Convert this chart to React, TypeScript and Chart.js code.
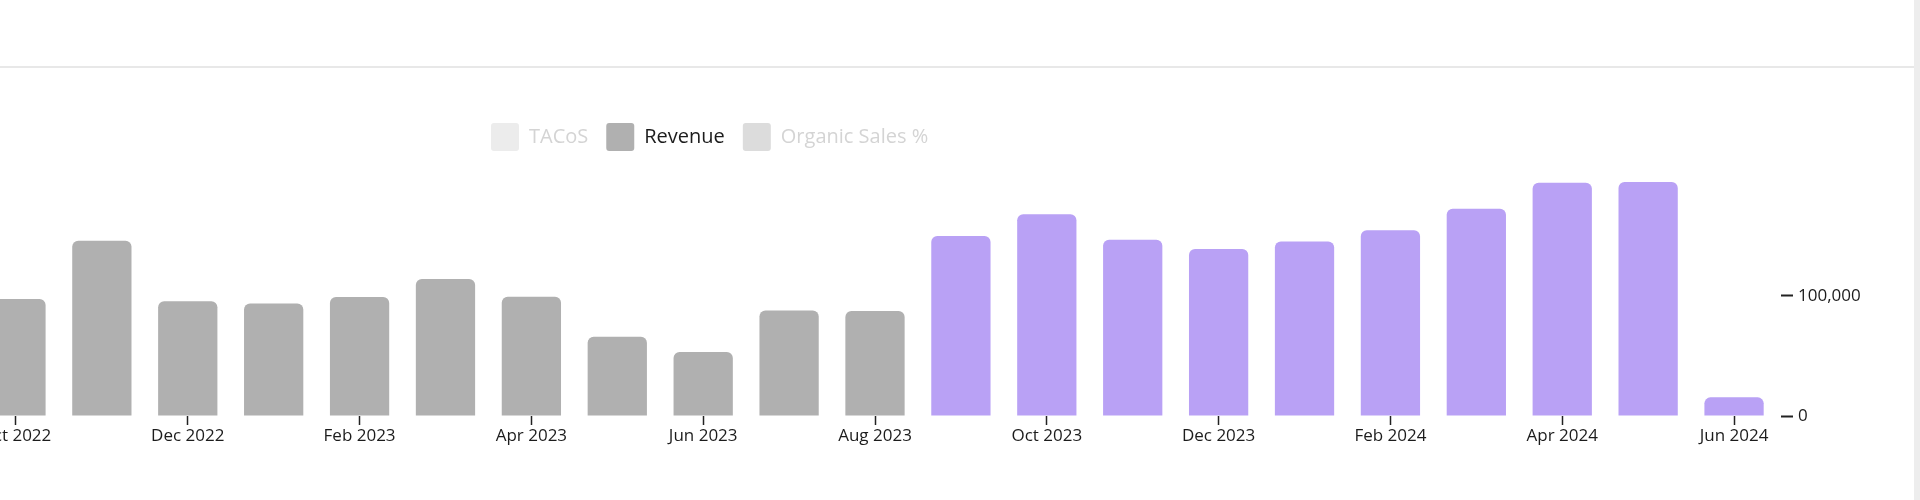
import React, { useEffect, useRef } from "react";
import { Chart, registerables } from "chart.js";

Chart.register(...registerables);

// ---- data ----
const months = [
  "Oct 2022", "Nov 2022", "Dec 2022", "Jan 2023", "Feb 2023", "Mar 2023", "Apr 2023",
  "May 2023", "Jun 2023", "Jul 2023", "Aug 2023", "Sep 2023", "Oct 2023", "Nov 2023",
  "Dec 2023", "Jan 2024", "Feb 2024", "Mar 2024", "Apr 2024", "May 2024", "Jun 2024",
];
const revenue = [
  97400, 145900, 95500, 93500, 99100, 113900, 99300,
  65900, 53300, 87800, 87400, 149800, 167900, 146700,
  139000, 145100, 154500, 172400, 194100, 194600, 15500,
];
const tacos: number[] = [];
const organicSales: number[] = [];
const highlightStart = "Sep 2023";
const yTickValues = [0, 100000];
const legendNames = ["TACoS", "Revenue", "Organic Sales %"];

// ---- styles ----
const GRAY = "#b0b0b0";
const PURPLE = "#b9a1f5";
const TEXT = "#1c1c1c";

const legendPlacement = {
  id: "legendPlacement",
  afterInit(chart: any) {
    const legend = chart.legend;
    if (!legend) return;
    const fit = legend.fit;
    legend.fit = function () {
      fit.call(this);
      this.height = 73;
    };
  },
  beforeDraw(chart: any) {
    if (chart.legend) chart.legend.left = 500;
  },
};

export default function App() {
  const ref = useRef<HTMLCanvasElement | null>(null);

  useEffect(() => {
    if (!ref.current) return;
    const hi = months.indexOf(highlightStart);
    const barColors = months.map((_, i) => (i >= hi ? PURPLE : GRAY));
    const legendStyles = [
      { fill: "#ececec", font: "#d4d4d4" },
      { fill: GRAY, font: TEXT },
      { fill: "#dcdcdc", font: "#d4d4d4" },
    ];

    const chart = new Chart(ref.current, {
      type: "bar",
      data: {
        labels: months,
        datasets: [
          { type: "line", label: legendNames[0], data: tacos, borderColor: "#ececec", backgroundColor: "#ececec" } as any,
          {
            type: "bar",
            label: legendNames[1],
            data: revenue,
            backgroundColor: barColors,
            borderRadius: 6,
            borderSkipped: "start",
            barPercentage: 0.69,
            categoryPercentage: 1,
          },
          { type: "line", label: legendNames[2], data: organicSales, borderColor: "#dcdcdc", backgroundColor: "#dcdcdc" } as any,
        ],
      },
      options: {
        responsive: false,
        animation: false,
        layout: { padding: 0 },
        font: { family: "'Open Sans', sans-serif" } as any,
        plugins: {
          tooltip: { enabled: false },
          legend: {
            position: "top",
            align: "start",
            labels: {
              boxWidth: 28,
              boxHeight: 28,
              padding: 18,
              useBorderRadius: true,
              borderRadius: 3,
              font: { size: 20, family: "'Open Sans', sans-serif" },
              generateLabels: () =>
                legendNames.map((name, i) => ({
                  text: name,
                  fillStyle: legendStyles[i].fill,
                  strokeStyle: legendStyles[i].fill,
                  lineWidth: 0,
                  hidden: false,
                  datasetIndex: i,
                  fontColor: legendStyles[i].font,
                  borderRadius: 3,
                })) as any,
            },
          },
        },
        scales: {
          x: {
            offset: true,
            border: { display: false },
            grid: {
              offset: false,
              drawOnChartArea: false,
              tickLength: 9,
              tickWidth: 1.5,
              tickColor: (ctx: any) => (ctx.index % 2 === 0 ? "#222" : "rgba(0,0,0,0)"),
            },
            ticks: {
              autoSkip: false,
              maxRotation: 0,
              minRotation: 0,
              padding: 1,
              color: TEXT,
              font: { size: 17, family: "'Open Sans', sans-serif" },
              callback: (_v: any, i: number) => (i % 2 === 0 ? months[i] : ""),
            },
            afterFit: (s: any) => {
              s.height = 40;
            },
          },
          y: {
            position: "right",
            min: 0,
            max: 198000,
            border: { display: false },
            grid: {
              drawOnChartArea: false,
              tickLength: 16,
              tickWidth: 2,
              tickColor: "#222",
              tickBorderDash: [0, 4, 12, 40],
            },
            ticks: {
              padding: 5,
              color: TEXT,
              font: { size: 17, family: "'Open Sans', sans-serif" },
              callback: (v: any) => Number(v).toLocaleString("en-US"),
            },
            afterBuildTicks: (s: any) => {
              s.ticks = yTickValues.map((value) => ({ value }));
            },
            afterFit: (s: any) => {
              s.width = 100;
            },
          },
        },
      } as any,
      plugins: [legendPlacement],
    });
    return () => chart.destroy();
  }, []);

  return (
    <div style={{ position: "fixed", left: 0, top: 0, width: 1920, height: 500, overflow: "hidden", background: "#fff" }}>
      <div style={{ position: "absolute", left: 0, top: 66, width: 1914, height: 2, background: "#e8e8e8" }} />
      <div style={{ position: "absolute", left: 1914, top: 0, width: 6, height: 500, background: "#ededed" }} />
      <div style={{ position: "absolute", left: -27, top: 105, width: 1904, height: 351 }}>
        <canvas ref={ref} width={1904} height={351} style={{ display: "block", width: 1904, height: 351 }} />
      </div>
    </div>
  );
}
